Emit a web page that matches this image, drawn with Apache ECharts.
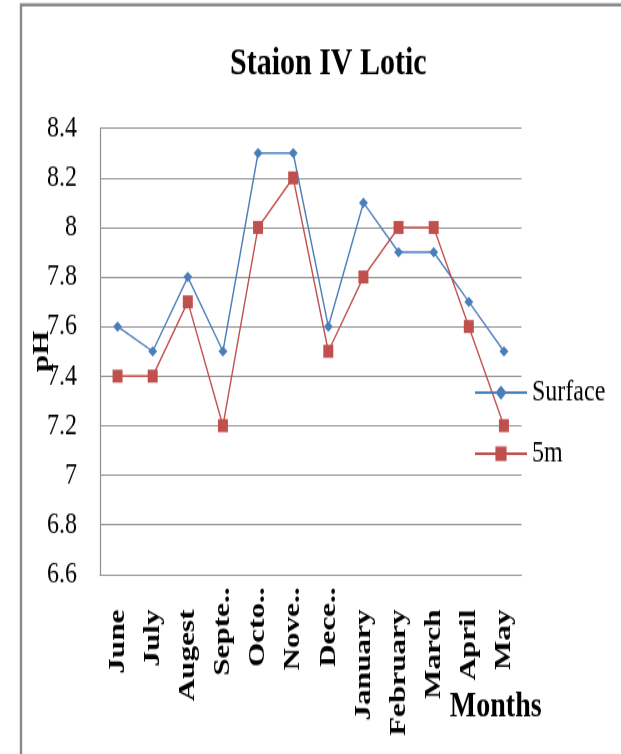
<!DOCTYPE html>
<html>
<head>
<meta charset="utf-8">
<title>Staion IV Lotic</title>
<script src="https://cdn.jsdelivr.net/npm/echarts@6/dist/echarts.min.js"></script>
<style>
  html, body { margin: 0; padding: 0; background: #fff; overflow: hidden; }
  /* The chart is laid out on a shorter canvas and stretched vertically,
     giving the tall, narrow lettering of the printed figure. */
  #wrap { width: 621px; height: 754px; overflow: hidden; }
  #chart { width: 621px; height: 580px; transform: scaleY(1.3); transform-origin: 0 0; }
</style>
</head>
<body>
<div id="wrap"><div id="chart"></div></div>
<script>
// pH readings per month, station IV (lotic)
const months = ['June', 'July', 'Augest', 'Septe..', 'Octo..', 'Nove..', 'Dece..',
                'January', 'February', 'March', 'April', 'May'];
const surface = [7.6, 7.5, 7.8, 7.5, 8.3, 8.3, 7.6, 8.1, 7.9, 7.9, 7.7, 7.5];
const depth5m = [7.4, 7.4, 7.7, 7.2, 8.0, 8.2, 7.5, 7.8, 8.0, 8.0, 7.6, 7.2];
const yMin = 6.6;
const yMax = 8.4;
const yStep = 0.2;

const serif = '"Liberation Serif", "Times New Roman", serif';
const gridGray = '#8f8f8f';

// Full month names sit a little further from the axis than the shortened ones.
const monthItems = months.map(m => ({
  value: m,
  textStyle: { padding: m.endsWith('..') ? 0 : [0, 17, 0, 0] }
}));

const chart = echarts.init(document.getElementById('chart'), null, { renderer: 'canvas' });

chart.setOption({
  animation: false,
  backgroundColor: '#ffffff',
  title: {
    text: 'Staion IV Lotic',
    left: 230,
    top: 34,
    padding: 0,
    textStyle: { fontFamily: serif, fontSize: 30, fontWeight: 'bold', color: '#000' }
  },
  legend: {
    orient: 'vertical',
    left: 474,
    top: 290,
    padding: 0,
    itemWidth: 52,
    itemHeight: 14,
    itemGap: 23,
    textStyle: { fontFamily: serif, fontSize: 24, color: '#000' },
    data: ['Surface', '5m']
  },
  grid: {
    left: 100, right: 99.5, top: 98.7, bottom: 138.2,
    containLabel: false,
    outerBoundsMode: 'none'
  },
  xAxis: {
    type: 'category',
    data: monthItems,
    boundaryGap: true,
    name: 'Months',
    nameLocation: 'middle',
    nameGap: 88,
    nameMoveOverlap: false,
    nameTextStyle: {
      fontFamily: serif, fontSize: 28, fontWeight: 'bold', color: '#000',
      padding: [0, 0, 0, 370]
    },
    axisLine: { show: true, lineStyle: { color: gridGray, width: 1.2 } },
    axisTick: { show: false },
    axisLabel: {
      rotate: 90,
      margin: 10,
      interval: 0,
      fontFamily: serif, fontSize: 24, fontWeight: 'bold', color: '#000'
    },
    splitLine: { show: false }
  },
  yAxis: {
    type: 'value',
    min: yMin,
    max: yMax,
    interval: yStep,
    name: 'pH',
    nameLocation: 'middle',
    nameGap: 46,
    nameMoveOverlap: false,
    nameTextStyle: { fontFamily: serif, fontSize: 24, fontWeight: 'bold', color: '#000' },
    axisLine: { show: true, lineStyle: { color: gridGray, width: 1.2 } },
    axisTick: { show: false },
    axisLabel: {
      margin: 23,
      fontFamily: serif, fontSize: 24, color: '#000'
    },
    splitLine: { show: true, lineStyle: { color: gridGray, width: 1.2 } }
  },
  graphic: [{
    type: 'polyline',
    silent: true,
    shape: { points: [[630, 3.8], [21, 3.8], [21, 590]] },
    style: { stroke: '#8a8a8a', lineWidth: 2.4, fill: null }
  }],
  series: [
    {
      name: 'Surface',
      type: 'line',
      data: surface,
      symbol: 'diamond',
      symbolSize: [9, 8],
      lineStyle: { color: '#4a7ebb', width: 1.4 },
      itemStyle: { color: '#4a7ebb' }
    },
    {
      name: '5m',
      type: 'line',
      data: depth5m,
      symbol: 'rect',
      symbolSize: [10, 10],
      lineStyle: { color: '#c0504d', width: 1.4 },
      itemStyle: { color: '#c0504d' }
    }
  ]
});
</script>
</body>
</html>
